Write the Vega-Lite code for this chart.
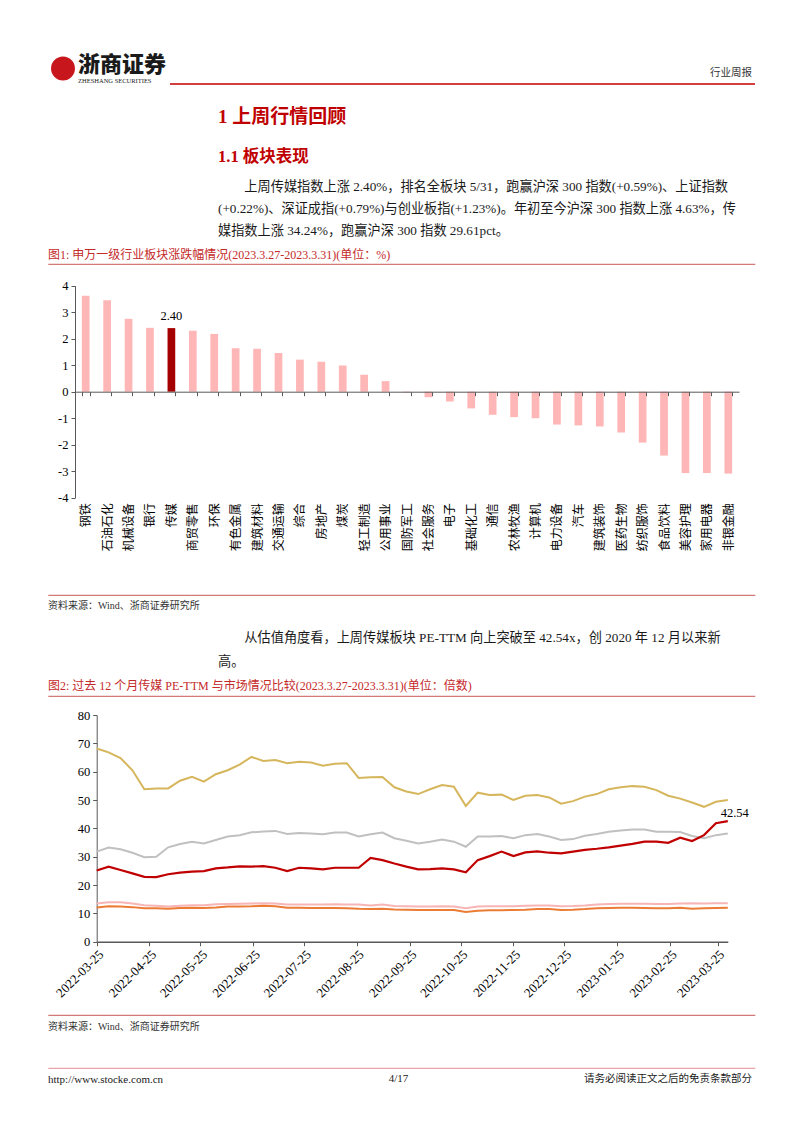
{
  "$schema": "https://vega.github.io/schema/vega-lite/v6.json",
  "background": "white",
  "padding": {"left": 41, "right": 47, "top": 0, "bottom": 0},
  "bounds": "flush",
  "spacing": 0,
  "config": {
    "view": {"stroke": null, "fill": "white"},
    "title": {"frame": "group", "anchor": "start", "font": "Liberation Serif, Noto Sans CJK SC", "fontWeight": "normal", "color": "#1a1a1a"},
    "axis": {"grid": false, "title": null},
    "text": {"font": "Liberation Serif, Noto Sans CJK SC"}
  },
  "vconcat": [
    {
      "width": 707, "height": 55,
      "data": {"values": [{"t": "行业周报"}]},
      "mark": {"type": "text", "align": "right", "baseline": "top", "dx": -3, "dy": 13, "font": "Noto Sans CJK SC", "fontSize": 10.5, "color": "#333333"},
      "encoding": {"text": {"field": "t"}, "x": {"value": "width"}, "y": {"value": "height"}}
    },
    {
      "width": 30, "height": 27,
      "data": {"values": [{}]},
      "mark": {"type": "point", "filled": true, "size": 572, "color": "#c8161d", "opacity": 1},
      "encoding": {}
    },
    {
      "width": 707, "height": 2,
      "view": {"stroke": "#c00000", "strokeWidth": 1.6, "strokeDash": [0, 709, 585, 124], "fill": "white"},
      "title": {"text": "浙商证券", "subtitle": "ZHESHANG SECURITIES", "orient": "top", "offset": -8, "dx": 30, "font": "Noto Sans CJK SC", "fontSize": 22, "fontWeight": 900, "color": "#1a1a1a", "subtitleFont": "Liberation Serif", "subtitleFontSize": 6.5, "subtitleColor": "#222222", "subtitlePadding": 1},
      "data": {"values": [{}]},
      "mark": {"type": "text", "text": ""},
      "encoding": {}
    },
    {
      "width": 707, "height": 86,
      "title": {"text": "1 上周行情回顾", "subtitle": "1.1 板块表现", "orient": "bottom", "offset": -62, "dx": 170, "fontSize": 19, "fontWeight": "bold", "color": "#c00000", "subtitleFont": "Liberation Serif, Noto Sans CJK SC", "subtitleFontSize": 16.5, "subtitleFontWeight": "bold", "subtitleColor": "#c00000", "subtitlePadding": 22},
      "data": {"values": [{}]},
      "mark": {"type": "text", "text": ""},
      "encoding": {}
    },
    {
      "width": 707, "height": 94,
      "title": {
        "text": [
          "\u200b　　上周传媒指数上涨 2.40%，排名全板块 5/31，跑赢沪深 300 指数(+0.59%)、上证指数",
          "(+0.22%)、深证成指(+0.79%)与创业板指(+1.23%)。年初至今沪深 300 指数上涨 4.63%，传",
          "媒指数上涨 34.24%，跑赢沪深 300 指数 29.61pct。"
        ],
        "orient": "bottom", "offset": -83.5, "dx": 170, "fontSize": 13.2, "lineHeight": 22, "color": "#1a1a1a"
      },
      "data": {"values": [{}]},
      "mark": {"type": "text", "text": ""},
      "encoding": {}
    },
    {
      "width": 707, "height": 331,
      "view": {"stroke": "#d47878", "strokeWidth": 1.2, "strokeDash": [707, 331, 707, 331], "fill": "white"},
      "title": {"text": "图1:  申万一级行业板块涨跌幅情况(2023.3.27-2023.3.31)(单位：%)", "orient": "top", "offset": 2, "fontSize": 12, "color": "#c42a2a"},
      "data": {"values": [
        {"n": "钢铁", "v": 3.62},
        {"n": "石油石化", "v": 3.45},
        {"n": "机械设备", "v": 2.75},
        {"n": "银行", "v": 2.41},
        {"n": "传媒", "v": 2.40},
        {"n": "商贸零售", "v": 2.30},
        {"n": "环保", "v": 2.18},
        {"n": "有色金属", "v": 1.64},
        {"n": "建筑材料", "v": 1.62},
        {"n": "交通运输", "v": 1.46},
        {"n": "综合", "v": 1.21},
        {"n": "房地产", "v": 1.13},
        {"n": "煤炭", "v": 0.99},
        {"n": "轻工制造", "v": 0.64},
        {"n": "公用事业", "v": 0.40},
        {"n": "国防军工", "v": -0.03},
        {"n": "社会服务", "v": -0.21},
        {"n": "电子", "v": -0.37},
        {"n": "基础化工", "v": -0.63},
        {"n": "通信", "v": -0.87},
        {"n": "农林牧渔", "v": -0.96},
        {"n": "计算机", "v": -1.00},
        {"n": "电力设备", "v": -1.24},
        {"n": "汽车", "v": -1.27},
        {"n": "建筑装饰", "v": -1.31},
        {"n": "医药生物", "v": -1.54},
        {"n": "纺织服饰", "v": -1.92},
        {"n": "食品饮料", "v": -2.41},
        {"n": "美容护理", "v": -3.07},
        {"n": "家用电器", "v": -3.07},
        {"n": "非银金融", "v": -3.09}
      ]},
      "layer": [
        {
          "mark": {"type": "bar"},
          "encoding": {
            "x": {
              "field": "n", "type": "nominal", "sort": null,
              "scale": {"type": "band", "range": [27, 691], "paddingInner": 0.64, "paddingOuter": 0.32},
              "axis": {"orient": "bottom", "offset": -203.3, "zindex": 1, "domainColor": "#595959", "tickColor": "#595959", "tickSize": 4, "tickBand": "extent", "labelAngle": -90, "labelAlign": "right", "labelBaseline": "middle", "labelPadding": 107, "labelFont": "Noto Sans CJK SC", "labelFontSize": 12, "labelColor": "#000000", "labelOverlap": false}
            },
            "y": {
              "field": "v", "type": "quantitative",
              "scale": {"domain": [-4, 4], "range": [233.7, 21.7], "nice": false, "zero": false},
              "axis": {"orient": "left", "offset": -27, "values": [-4, -3, -2, -1, 0, 1, 2, 3, 4], "labelExpr": "'' + datum.value", "labelOverlap": false, "domainColor": "#595959", "tickColor": "#595959", "tickSize": 4, "labelFont": "Liberation Serif", "labelFontSize": 12.5, "labelColor": "#000000", "labelPadding": 3}
            },
            "color": {"condition": {"test": "datum.n === '传媒'", "value": "#a50000"}, "value": "#ffb6b6"}
          }
        },
        {
          "mark": {"type": "text", "baseline": "bottom", "dy": -5, "font": "Liberation Serif", "fontSize": 12.5, "color": "#000000"},
          "encoding": {
            "x": {"field": "n", "type": "nominal", "sort": null},
            "y": {"field": "v", "type": "quantitative"},
            "text": {"condition": {"test": "datum.n === '传媒'", "field": "v", "type": "quantitative", "format": ".2f"}, "value": ""}
          }
        }
      ]
    },
    {
      "width": 707, "height": 25,
      "title": {"text": "资料来源：Wind、浙商证券研究所", "orient": "bottom", "offset": -19, "fontSize": 10, "color": "#333333"},
      "data": {"values": [{}]},
      "mark": {"type": "text", "text": ""},
      "encoding": {}
    },
    {
      "width": 707, "height": 76,
      "title": {
        "text": [
          "\u200b　　从估值角度看，上周传媒板块 PE-TTM 向上突破至 42.54x，创 2020 年 12 月以来新",
          "高。"
        ],
        "orient": "bottom", "offset": -64.5, "dx": 170, "fontSize": 13.2, "lineHeight": 24, "color": "#1a1a1a"
      },
      "data": {"values": [{}]},
      "mark": {"type": "text", "text": ""},
      "encoding": {}
    },
    {
      "width": 707, "height": 319,
      "view": {"stroke": "#d47878", "strokeWidth": 1.2, "strokeDash": [707, 319, 707, 319], "fill": "white"},
      "title": {"text": "图2:  过去 12 个月传媒 PE-TTM 与市场情况比较(2023.3.27-2023.3.31)(单位：倍数)", "orient": "top", "offset": 3, "fontSize": 12, "color": "#c42a2a"},
      "data": {
        "format": {"parse": {"d": "utc:'%Y-%m-%d'"}},
        "values": [
          {"d": "2022-03-25", "y": 68.2, "g": 31.8, "p": 13.5, "o": 12.1, "r": 25.1},
          {"d": "2022-04-01", "y": 66.8, "g": 33.2, "p": 13.9, "o": 12.5, "r": 26.5},
          {"d": "2022-04-08", "y": 64.8, "g": 32.6, "p": 13.9, "o": 12.4, "r": 25.3},
          {"d": "2022-04-15", "y": 60.5, "g": 31.4, "p": 13.5, "o": 12.2, "r": 24.1},
          {"d": "2022-04-22", "y": 53.8, "g": 29.8, "p": 12.9, "o": 11.8, "r": 22.9},
          {"d": "2022-04-29", "y": 54.1, "g": 30.0, "p": 12.7, "o": 11.8, "r": 22.8},
          {"d": "2022-05-06", "y": 54.1, "g": 33.3, "p": 12.4, "o": 11.6, "r": 23.8},
          {"d": "2022-05-13", "y": 56.8, "g": 34.5, "p": 12.7, "o": 11.9, "r": 24.4},
          {"d": "2022-05-20", "y": 58.2, "g": 35.3, "p": 12.9, "o": 12.0, "r": 24.7},
          {"d": "2022-05-27", "y": 56.5, "g": 34.7, "p": 12.9, "o": 11.9, "r": 24.9},
          {"d": "2022-06-03", "y": 59.1, "g": 35.9, "p": 13.2, "o": 12.1, "r": 25.9},
          {"d": "2022-06-10", "y": 60.5, "g": 37.1, "p": 13.3, "o": 12.4, "r": 26.2},
          {"d": "2022-06-17", "y": 62.5, "g": 37.6, "p": 13.4, "o": 12.4, "r": 26.6},
          {"d": "2022-06-24", "y": 65.2, "g": 38.6, "p": 13.5, "o": 12.5, "r": 26.5},
          {"d": "2022-07-01", "y": 63.8, "g": 38.9, "p": 13.6, "o": 12.7, "r": 26.7},
          {"d": "2022-07-08", "y": 64.1, "g": 39.1, "p": 13.5, "o": 12.5, "r": 26.1},
          {"d": "2022-07-15", "y": 63.0, "g": 38.0, "p": 13.1, "o": 12.0, "r": 24.9},
          {"d": "2022-07-22", "y": 63.5, "g": 38.4, "p": 13.1, "o": 12.0, "r": 26.1},
          {"d": "2022-07-29", "y": 63.2, "g": 38.2, "p": 13.1, "o": 11.9, "r": 25.9},
          {"d": "2022-08-05", "y": 62.1, "g": 37.9, "p": 13.1, "o": 11.9, "r": 25.5},
          {"d": "2022-08-12", "y": 62.8, "g": 38.5, "p": 13.2, "o": 11.9, "r": 26.1},
          {"d": "2022-08-19", "y": 63.0, "g": 38.5, "p": 13.1, "o": 11.8, "r": 26.1},
          {"d": "2022-08-26", "y": 57.8, "g": 37.1, "p": 13.1, "o": 11.6, "r": 26.1},
          {"d": "2022-09-02", "y": 58.0, "g": 37.9, "p": 12.8, "o": 11.5, "r": 29.6},
          {"d": "2022-09-09", "y": 58.1, "g": 38.5, "p": 13.1, "o": 11.6, "r": 28.8},
          {"d": "2022-09-16", "y": 54.5, "g": 36.5, "p": 12.6, "o": 11.4, "r": 27.6},
          {"d": "2022-09-23", "y": 53.0, "g": 35.6, "p": 12.5, "o": 11.3, "r": 26.5},
          {"d": "2022-09-30", "y": 52.1, "g": 34.7, "p": 12.4, "o": 11.2, "r": 25.5},
          {"d": "2022-10-07", "y": 53.8, "g": 35.3, "p": 12.4, "o": 11.2, "r": 25.6},
          {"d": "2022-10-14", "y": 55.3, "g": 36.1, "p": 12.5, "o": 11.2, "r": 25.9},
          {"d": "2022-10-21", "y": 54.7, "g": 35.3, "p": 12.4, "o": 11.2, "r": 25.5},
          {"d": "2022-10-28", "y": 47.9, "g": 33.5, "p": 11.8, "o": 10.5, "r": 24.5},
          {"d": "2022-11-04", "y": 52.6, "g": 37.1, "p": 12.4, "o": 10.9, "r": 28.8},
          {"d": "2022-11-11", "y": 51.8, "g": 37.1, "p": 12.5, "o": 11.1, "r": 30.2},
          {"d": "2022-11-18", "y": 51.9, "g": 37.3, "p": 12.5, "o": 11.1, "r": 31.8},
          {"d": "2022-11-25", "y": 50.0, "g": 36.5, "p": 12.5, "o": 11.2, "r": 30.2},
          {"d": "2022-12-02", "y": 51.5, "g": 37.6, "p": 12.7, "o": 11.3, "r": 31.5},
          {"d": "2022-12-09", "y": 51.8, "g": 38.0, "p": 12.8, "o": 11.5, "r": 31.9},
          {"d": "2022-12-16", "y": 50.9, "g": 37.1, "p": 12.8, "o": 11.5, "r": 31.4},
          {"d": "2022-12-23", "y": 48.7, "g": 35.9, "p": 12.5, "o": 11.2, "r": 31.2},
          {"d": "2022-12-30", "y": 49.6, "g": 36.2, "p": 12.6, "o": 11.3, "r": 31.8},
          {"d": "2023-01-06", "y": 51.2, "g": 37.4, "p": 12.8, "o": 11.5, "r": 32.4},
          {"d": "2023-01-13", "y": 52.1, "g": 38.0, "p": 13.1, "o": 11.8, "r": 32.8},
          {"d": "2023-01-20", "y": 53.8, "g": 38.8, "p": 13.3, "o": 11.9, "r": 33.3},
          {"d": "2023-01-27", "y": 54.5, "g": 39.2, "p": 13.4, "o": 12.0, "r": 33.9},
          {"d": "2023-02-03", "y": 54.9, "g": 39.6, "p": 13.4, "o": 12.0, "r": 34.5},
          {"d": "2023-02-10", "y": 54.7, "g": 39.6, "p": 13.4, "o": 11.9, "r": 35.3},
          {"d": "2023-02-17", "y": 53.5, "g": 38.8, "p": 13.3, "o": 11.8, "r": 35.3},
          {"d": "2023-02-24", "y": 51.5, "g": 38.8, "p": 13.3, "o": 11.8, "r": 34.9},
          {"d": "2023-03-03", "y": 50.5, "g": 38.7, "p": 13.5, "o": 12.0, "r": 36.7},
          {"d": "2023-03-10", "y": 49.1, "g": 37.3, "p": 13.6, "o": 11.6, "r": 35.5},
          {"d": "2023-03-17", "y": 47.6, "g": 36.5, "p": 13.5, "o": 11.8, "r": 37.6},
          {"d": "2023-03-24", "y": 49.4, "g": 37.6, "p": 13.6, "o": 11.9, "r": 41.8},
          {"d": "2023-03-31", "y": 50.0, "g": 38.2, "p": 13.6, "o": 12.0, "r": 42.54}
        ]
      },
      "layer": [
        {
          "transform": [{"fold": ["y", "g", "p", "o"], "as": ["s", "v"]}],
          "mark": {"type": "line", "strokeWidth": 2},
          "encoding": {
            "x": {
              "field": "d", "type": "temporal",
              "scale": {"type": "utc", "domain": [{"year": 2022, "month": 3, "date": 25, "utc": true}, {"year": 2023, "month": 3, "date": 31, "utc": true}], "range": [48.7, 679.8]},
              "axis": {
                "orient": "bottom", "offset": -73.3,
                "values": [
                  {"year": 2022, "month": 3, "date": 25, "utc": true},
                  {"year": 2022, "month": 4, "date": 25, "utc": true},
                  {"year": 2022, "month": 5, "date": 25, "utc": true},
                  {"year": 2022, "month": 6, "date": 25, "utc": true},
                  {"year": 2022, "month": 7, "date": 25, "utc": true},
                  {"year": 2022, "month": 8, "date": 25, "utc": true},
                  {"year": 2022, "month": 9, "date": 25, "utc": true},
                  {"year": 2022, "month": 10, "date": 25, "utc": true},
                  {"year": 2022, "month": 11, "date": 25, "utc": true},
                  {"year": 2022, "month": 12, "date": 25, "utc": true},
                  {"year": 2023, "month": 1, "date": 25, "utc": true},
                  {"year": 2023, "month": 2, "date": 25, "utc": true},
                  {"year": 2023, "month": 3, "date": 25, "utc": true}
                ],
                "format": "%Y-%m-%d",
                "labelAngle": -45, "labelAlign": "right", "labelBaseline": "top",
                "labelFont": "Liberation Serif", "labelFontSize": 13, "labelColor": "#000000",
                "labelFlush": false, "labelOverlap": false, "labelBound": false, "labelPadding": 2,
                "domainColor": "#595959", "domainWidth": 1.5, "tickColor": "#595959", "tickSize": 4
              }
            },
            "y": {
              "field": "v", "type": "quantitative",
              "scale": {"domain": [0, 80], "range": [245.7, 19], "nice": false, "zero": false},
              "axis": {"orient": "left", "offset": -48.7, "values": [0, 10, 20, 30, 40, 50, 60, 70, 80], "tickCount": 9, "labelOverlap": false, "domainColor": "#595959", "tickColor": "#595959", "tickSize": 4, "labelFont": "Liberation Serif", "labelFontSize": 12.5, "labelColor": "#000000", "labelPadding": 3}
            },
            "color": {"field": "s", "type": "nominal", "legend": null, "scale": {"domain": ["y", "g", "p", "o"], "range": ["#d6b65c", "#c0c0c0", "#f7b5b5", "#ec7c35"]}}
          }
        },
        {
          "mark": {"type": "line", "strokeWidth": 2.2, "color": "#c00000"},
          "encoding": {
            "x": {"field": "d", "type": "temporal"},
            "y": {"field": "r", "type": "quantitative", "axis": {"orient": "left", "offset": -48.7, "values": [0, 10, 20, 30, 40, 50, 60, 70, 80], "tickCount": 9, "labelOverlap": false, "domainColor": "#595959", "tickColor": "#595959", "tickSize": 4, "labelFont": "Liberation Serif", "labelFontSize": 12.5, "labelColor": "#000000", "labelPadding": 3}}
          }
        },
        {
          "transform": [{"filter": "datum.r > 42"}],
          "mark": {"type": "text", "baseline": "bottom", "align": "center", "dx": 7, "dy": -1, "font": "Liberation Serif", "fontSize": 12.5, "color": "#000000"},
          "encoding": {
            "x": {"field": "d", "type": "temporal"},
            "y": {"field": "r", "type": "quantitative", "axis": {"orient": "left", "offset": -48.7, "values": [0, 10, 20, 30, 40, 50, 60, 70, 80], "tickCount": 9, "labelOverlap": false, "domainColor": "#595959", "tickColor": "#595959", "tickSize": 4, "labelFont": "Liberation Serif", "labelFontSize": 12.5, "labelColor": "#000000", "labelPadding": 3}},
            "text": {"field": "r", "type": "quantitative", "format": ".2f"}
          }
        }
      ]
    },
    {
      "width": 707, "height": 53,
      "title": {"text": "资料来源：Wind、浙商证券研究所", "orient": "bottom", "offset": -46, "fontSize": 10, "color": "#333333"},
      "data": {"values": [{}]},
      "mark": {"type": "text", "text": ""},
      "encoding": {}
    },
    {
      "width": 707, "height": 22,
      "view": {"stroke": "#e9a3aa", "strokeWidth": 1.2, "strokeDash": [707, 751], "fill": "white"},
      "title": {"text": "http://www.stocke.com.cn", "orient": "bottom", "offset": -16, "font": "Liberation Serif", "fontSize": 11, "color": "#1a1a1a"},
      "data": {"values": [{"c": "4/17", "r": "请务必阅读正文之后的免责条款部分"}]},
      "layer": [
        {
          "mark": {"type": "text", "font": "Liberation Serif", "fontSize": 11, "color": "#1a1a1a", "dx": -3},
          "encoding": {"text": {"field": "c"}}
        },
        {
          "mark": {"type": "text", "align": "right", "dx": -3, "font": "Noto Sans CJK SC", "fontSize": 10.5, "color": "#1a1a1a"},
          "encoding": {"text": {"field": "r"}, "x": {"value": "width"}}
        }
      ]
    },
    {
      "width": 707, "height": 43,
      "data": {"values": [{}]},
      "mark": {"type": "text", "text": ""},
      "encoding": {}
    }
  ]
}
